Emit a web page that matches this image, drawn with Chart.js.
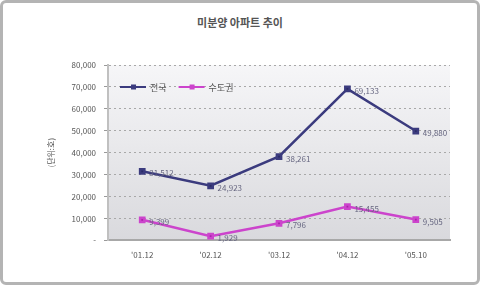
<!DOCTYPE html>
<html>
<head>
<meta charset="utf-8">
<script src="https://cdn.jsdelivr.net/npm/chart.js@4/dist/chart.umd.min.js"></script>
<style>
  html, body { margin: 0; padding: 0; background: #fff; }
  #wrap { position: relative; width: 480px; height: 285px; box-sizing: border-box; border: 3px solid #b4b4b4; border-radius: 6px; }
  #title { position: absolute; top: 11px; left: 0; width: 100%; text-align: center; font: bold 11px "Noto Sans CJK KR", sans-serif; color: #555; }
  #chart { position: absolute; left: -3px; top: -3px; }
</style>
</head>
<body>
<div id="wrap">
  <div id="title">미분양 아파트 추이</div>
  <canvas id="chart" width="480" height="285"></canvas>
</div>
<script>
const labels = ["'01.12", "'02.12", "'03.12", "'04.12", "'05.10"];
const nationwide = [31512, 24923, 38261, 69133, 49880];
const capital = [9399, 1929, 7796, 15455, 9505];
const yTicks = [0, 10000, 20000, 30000, 40000, 50000, 60000, 70000, 80000];

const fmt = v => v === 0 ? '-' : v.toLocaleString('en-US');

const bgPlugin = {
  id: 'bg',
  beforeDraw(chart) {
    const { ctx, chartArea: a } = chart;
    const g = ctx.createLinearGradient(0, a.top, 0, a.bottom);
    g.addColorStop(0, '#f6f6f8');
    g.addColorStop(1, '#d9d9dd');
    ctx.save();
    ctx.fillStyle = g;
    ctx.fillRect(a.left, a.top, a.right - a.left, a.bottom - a.top);
    ctx.restore();
  },
  afterDatasetsDraw(chart) {
    const { ctx, chartArea: a } = chart;
    ctx.save();
    ctx.font = '8px "Noto Sans CJK KR", sans-serif';
    ctx.textBaseline = 'middle';
    chart.data.datasets.forEach((ds, i) => {
      chart.getDatasetMeta(i).data.forEach((pt, j) => {
        ctx.fillStyle = '#666680';
        ctx.fillText(fmt(ds.data[j]), pt.x + 7, pt.y + 2);
      });
    });
    // legend inside plot
    const items = chart.data.datasets;
    let x = a.left + 12;
    const y = a.top + 22;
    ctx.font = '9px "Noto Sans CJK KR", sans-serif';
    items.forEach(ds => {
      ctx.strokeStyle = ds.borderColor;
      ctx.lineWidth = 2;
      ctx.beginPath();
      ctx.moveTo(x, y); ctx.lineTo(x + 26, y);
      ctx.stroke();
      ctx.fillStyle = ds.borderColor;
      ctx.fillRect(x + 11, y - 2.5, 5, 5);
      ctx.fillStyle = '#555';
      ctx.fillText(ds.label, x + 30, y + 1);
      x += 30 + ctx.measureText(ds.label).width + 12;
    });
    ctx.restore();
  }
};

new Chart(document.getElementById('chart'), {
  type: 'line',
  data: {
    labels: labels,
    datasets: [
      {
        label: '전국',
        data: nationwide,
        borderColor: '#3b3b7e',
        backgroundColor: '#2a2a66',
        borderWidth: 2.5,
        pointStyle: 'rect',
        pointRadius: 3,
        tension: 0
      },
      {
        label: '수도권',
        data: capital,
        borderColor: '#cc44cc',
        backgroundColor: '#aa22aa',
        borderWidth: 2.5,
        pointStyle: 'rect',
        pointRadius: 3,
        tension: 0
      }
    ]
  },
  options: {
    responsive: false,
    animation: false,
    layout: { padding: { left: 38, right: 30, top: 65, bottom: 15 } },
    plugins: {
      legend: { display: false },
      tooltip: { enabled: false }
    },
    scales: {
      x: {
        offset: true,
        grid: { display: false, drawTicks: false },
        border: { color: '#a8a8a8', width: 2 },
        ticks: { color: '#555', font: { size: 8, family: 'Noto Sans CJK KR' }, padding: 10 }
      },
      y: {
        min: 0,
        max: 80000,
        afterBuildTicks: axis => { axis.ticks = yTicks.map(v => ({ value: v })); },
        grid: { color: '#a8a8a8', drawTicks: true, tickLength: 4, tickColor: '#999' },
        border: { color: '#c0c0c0', width: 2, dash: [2, 3] },
        ticks: { color: '#555', font: { size: 8, family: 'Noto Sans CJK KR' }, padding: 8, callback: v => fmt(v) },
        title: { display: true, text: '(단위:호)', color: '#555', font: { size: 8, family: 'Noto Sans CJK KR' }, padding: 8 }
      }
    }
  },
  plugins: [bgPlugin]
});
</script>
</body>
</html>
